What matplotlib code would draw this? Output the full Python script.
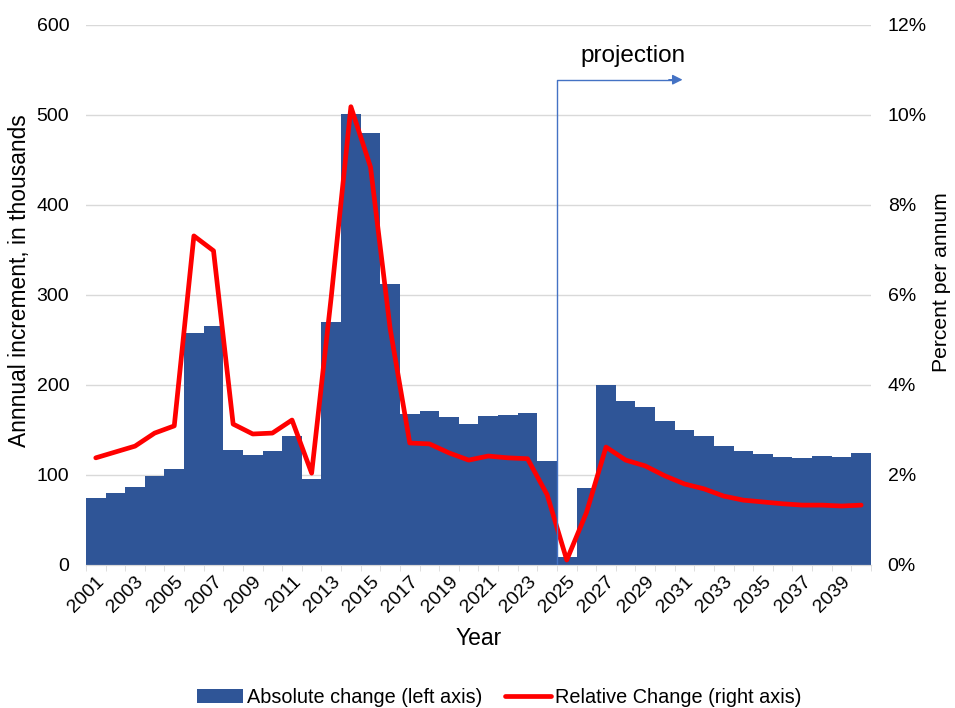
import matplotlib.pyplot as plt
import numpy as np

plt.rcParams['font.family'] = ['Liberation Sans', 'DejaVu Sans']

# годы и данные
years = list(range(2001, 2041))
absolute = [74, 80, 87, 99, 107, 258, 265, 128, 122, 127,
            143, 95, 270, 501, 480, 312, 168, 171, 164, 157,
            166, 167, 169, 116, 9, 85, 200, 182, 175, 160,
            150, 143, 132, 127, 123, 120, 119, 121, 120, 124]
relative = [2.38, 2.51, 2.64, 2.93, 3.09, 7.31, 6.98, 3.13, 2.91, 2.93,
            3.22, 2.04, 5.96, 10.18, 8.84, 5.25, 2.71, 2.69, 2.49, 2.33,
            2.42, 2.38, 2.36, 1.56, 0.11, 1.16, 2.62, 2.33, 2.2, 1.98,
            1.80, 1.69, 1.53, 1.44, 1.40, 1.36, 1.33, 1.33, 1.31, 1.33]
proj_start = 2025

x = np.arange(len(years))

fig = plt.figure(figsize=(9.55, 7.08), dpi=100)
ax = fig.add_axes([0.090, 0.202, 0.822, 0.763])
ax2 = ax.twinx()

ax.bar(x, absolute, width=1.0, color='#2F5597', label='Absolute change (left axis)', zorder=2)
ax2.plot(x, relative, color='#FF0000', lw=3.4, solid_joinstyle='round',
         solid_capstyle='round', label='Relative Change (right axis)')

ax.set_xlim(-0.5, len(years) - 0.5)
ax.set_ylim(0, 600)
ax2.set_ylim(0, 12)
ax.set_yticks(range(0, 601, 100))
ax2.set_yticks(range(0, 13, 2))
ax2.set_yticklabels([f'{v}%' for v in range(0, 13, 2)])

ax.set_xticks(x[::2])
ax.set_xticklabels([str(y) for y in years[::2]], rotation=45, ha='right',
                   rotation_mode='anchor')
ax.set_xticks(np.arange(-0.5, len(years), 1), minor=True)
ax.tick_params(axis='x', which='major', length=0, labelsize=14, pad=6)
ax.tick_params(axis='x', which='minor', length=4, color='#D9D9D9')
ax.tick_params(axis='y', length=0, labelsize=14, pad=12)
ax2.tick_params(axis='y', length=0, labelsize=14, pad=12)

ax.grid(axis='y', color='#D9D9D9', lw=1)
ax.set_axisbelow(True)
for a in (ax, ax2):
    for s in ('left', 'right', 'top'):
        a.spines[s].set_visible(False)
    a.spines['bottom'].set_color('#D9D9D9')

ax.set_xlabel('Year', fontsize=16.5, labelpad=8)
ax.set_ylabel('Annnual increment, in thousands', fontsize=16.4)
ax.yaxis.set_label_coords(-0.070, 0.527)
ax2.set_ylabel('Percent per annum', fontsize=15.2)
ax2.yaxis.set_label_coords(1.078, 0.524)

# стрелка "projection"
xp = years.index(proj_start) - 0.5
ax2.plot([xp, xp, 29.3], [0, 10.78, 10.78], color='#4472C4', lw=1, zorder=3)
ax2.annotate('', xy=(29.9, 10.78), xytext=(29.2, 10.78),
             arrowprops=dict(arrowstyle='-|>', color='#4472C4', lw=1,
                             mutation_scale=15, shrinkA=0, shrinkB=0))
ax2.text(27.4, 11.3, 'projection', fontsize=17.5, ha='center', va='center')

h1, l1 = ax.get_legend_handles_labels()
h2, l2 = ax2.get_legend_handles_labels()
fig.legend(h1 + h2, l1 + l2, loc='center', bbox_to_anchor=(0.523, 0.015), ncol=2,
           frameon=False, fontsize=14.3, handlelength=2.3, handletextpad=0.2,
           columnspacing=1.15)

fig.savefig('out.png', dpi=100)
